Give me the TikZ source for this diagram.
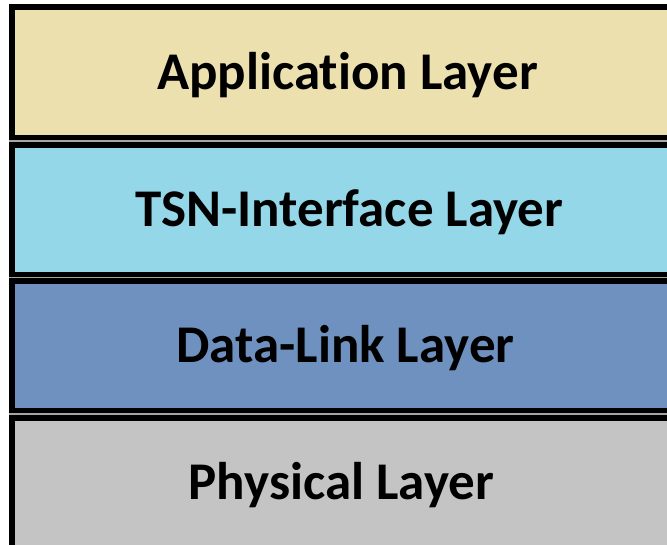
\documentclass[tikz,border=0pt]{standalone}
\usepackage{fontspec}
\setmainfont[Ligatures=NoCommon]{Carlito}
\definecolor{appc}{RGB}{235,224,174}
\definecolor{tsnc}{RGB}{148,215,233}
\definecolor{dlc}{RGB}{110,145,192}
\definecolor{phyc}{RGB}{196,196,196}
\begin{document}
\begin{tikzpicture}[x=1pt,y=-1pt,
  layer/.style={draw=black,line width=5.5pt,minimum width=671.25pt,inner sep=0pt,
    text height=34pt,text depth=0pt,font=\fontsize{53}{60}\selectfont\bfseries}]
\useasboundingbox (0,0) rectangle (667,544);
\fill[white] (0,0) rectangle (667,544);
\fill[black!35] (9,139) rectangle (700,143);
\fill[black!35] (9,276) rectangle (700,279);
\fill[black!35] (9,412) rectangle (700,416);
\node[layer,fill=appc,minimum height=130.5pt] (app) at (347.4,72) {Application Layer};
\node[layer,fill=tsnc,minimum height=129.5pt] (tsn) at (347.4,209.5) {\hspace*{4pt}TSN-Interface Layer};
\node[layer,fill=dlc,minimum height=129.5pt] (dl) at (347.4,345.5) {\hspace*{-4pt}Data-Link Layer};
\node[layer,fill=phyc,minimum height=129.5pt] (phy) at (347.4,482.5) {\hspace*{-12pt}Physical Layer};
\end{tikzpicture}
\end{document}
